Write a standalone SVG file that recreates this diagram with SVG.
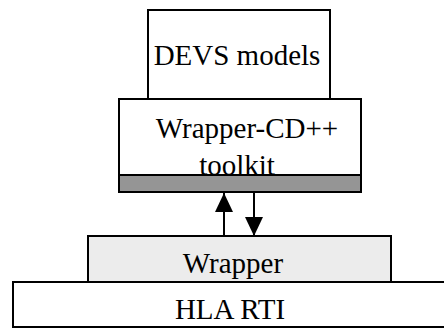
<svg xmlns="http://www.w3.org/2000/svg" width="444" height="328" viewBox="0 0 444 328">
<style>
.box{fill:#fff;stroke:#000;stroke-width:2}
.t{font-family:"Liberation Serif","Times New Roman",serif;font-size:29px;fill:#000;text-anchor:middle}
.conn{stroke:#000;stroke-width:2;fill:none}
</style>
<defs>
<marker id="ah" viewBox="0 0 10 10" refX="10" refY="5" markerWidth="19" markerHeight="18" markerUnits="userSpaceOnUse" orient="auto" preserveAspectRatio="none">
<path d="M0,0 L10,5 L0,10 Z" fill="#000"/>
</marker>
</defs>
<rect width="444" height="328" fill="#fff"/>
<g id="hla-rti">
<rect class="box" x="13" y="282" width="440" height="45"/>
<text class="t" x="230" y="319">HLA RTI</text>
</g>
<g id="wrapper">
<rect class="box" x="88" y="236" width="303" height="46" style="fill:#ececec"/>
<text class="t" x="233" y="273">Wrapper</text>
</g>
<g id="devs-models">
<rect class="box" x="148" y="10" width="182" height="89"/>
<text class="t" x="237" y="65">DEVS models</text>
</g>
<g id="wrapper-cd-toolkit">
<rect class="box" x="119" y="99" width="242" height="93"/>
<text class="t" x="247" y="138">Wrapper-CD++</text>
<text class="t" x="237" y="175">toolkit</text>
<rect x="119" y="175" width="242" height="17" fill="#959595" stroke="#000" stroke-width="2"/>
</g>
<g id="connectors">
<line class="conn" x1="224" y1="236" x2="224" y2="193" marker-end="url(#ah)"/>
<line class="conn" x1="254" y1="193" x2="254" y2="236" marker-end="url(#ah)"/>
</g>
</svg>
